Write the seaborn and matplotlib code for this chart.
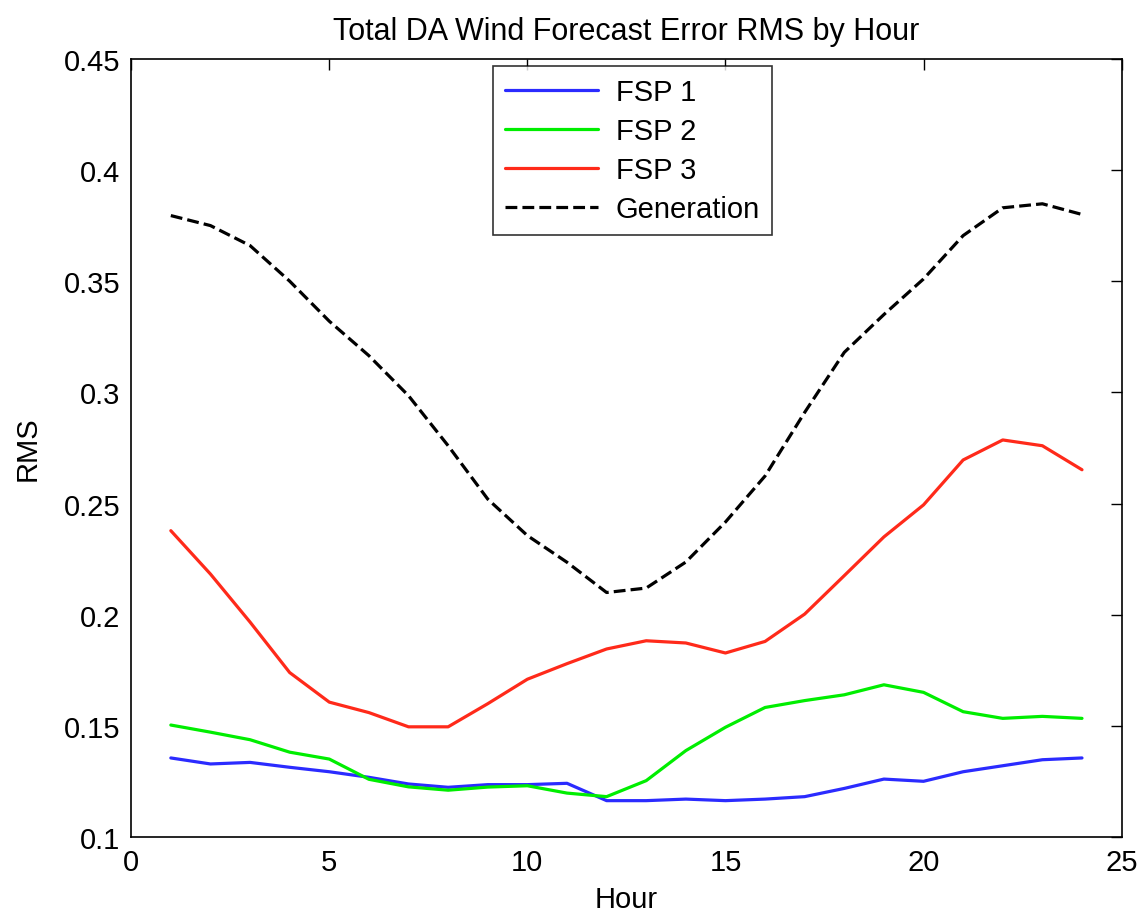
import matplotlib
matplotlib.use("Agg")
import matplotlib.pyplot as plt
import seaborn as sns
import numpy as np

# values
hours = list(range(1, 25))
fsp1 = [0.1356, 0.1329, 0.1336, 0.1314, 0.1294, 0.1269, 0.1239, 0.1224,
        0.1236, 0.1236, 0.1242, 0.1164, 0.1164, 0.1171, 0.1164, 0.1171,
        0.1182, 0.1219, 0.1261, 0.1251, 0.1294, 0.1321, 0.1348, 0.1356]
fsp2 = [0.1504, 0.1472, 0.1438, 0.1382, 0.1351, 0.1260, 0.1226, 0.1211,
        0.1225, 0.1231, 0.1198, 0.1182, 0.1254, 0.1389, 0.1494, 0.1583,
        0.1614, 0.1640, 0.1685, 0.1651, 0.1564, 0.1534, 0.1543, 0.1534]
fsp3 = [0.2378, 0.2183, 0.1967, 0.1740, 0.1607, 0.1560, 0.1496, 0.1496,
        0.1600, 0.1710, 0.1780, 0.1846, 0.1883, 0.1873, 0.1828, 0.1880,
        0.2003, 0.2176, 0.2350, 0.2494, 0.2696, 0.2786, 0.2760, 0.2652]
generation = [0.3795, 0.3750, 0.3660, 0.3500, 0.3320, 0.3165, 0.2985, 0.2760,
              0.2520, 0.2356, 0.2236, 0.2100, 0.2120, 0.2237, 0.2417, 0.2624,
              0.2910, 0.3180, 0.3350, 0.3510, 0.3705, 0.3830, 0.3848, 0.3800]
ytick_labels = ["0.1", "0.15", "0.2", "0.25", "0.3", "0.35", "0.4", "0.45"]

sns.set_style("white")
plt.rcParams["font.family"] = ["Liberation Sans", "DejaVu Sans"]
plt.rcParams["text.color"] = "black"
plt.rcParams["axes.labelcolor"] = "black"
fs = 21

fig, ax = plt.subplots(figsize=(11.41, 9.2), dpi=100)
fig.subplots_adjust(left=0.115, right=0.983, top=0.935, bottom=0.089)

lw = 2.3
sns.lineplot(x=hours, y=fsp1, ax=ax, color="#2b2bff", linewidth=lw, label="FSP 1")
sns.lineplot(x=hours, y=fsp2, ax=ax, color="#00ee00", linewidth=lw, label="FSP 2")
sns.lineplot(x=hours, y=fsp3, ax=ax, color="#ff2a1a", linewidth=lw, label="FSP 3")
sns.lineplot(x=hours, y=generation, ax=ax, color="black", linewidth=lw,
             linestyle="--", label="Generation")

ax.set_xlim(0, 25)
ax.set_ylim(0.1, 0.45)
ax.set_xticks([0, 5, 10, 15, 20, 25])
ax.set_yticks([float(t) for t in ytick_labels])
ax.set_yticklabels(ytick_labels)
ax.tick_params(direction="in", length=8, width=1, top=True, right=True,
               labelsize=fs, colors="black", pad=8)
for s in ax.spines.values():
    s.set_color("black")
    s.set_linewidth(1.2)

ax.set_title("Total DA Wind Forecast Error RMS by Hour", fontsize=fs + 1, pad=14,
             color="black")
ax.set_xlabel("Hour", fontsize=fs, labelpad=6)
ax.set_ylabel("RMS", fontsize=fs, labelpad=16)

leg = ax.legend(loc="upper center", bbox_to_anchor=(0.506, 1.0), fontsize=fs,
                frameon=True, fancybox=False, handlelength=3.2,
                labelspacing=0.38, borderpad=0.4, handletextpad=0.6,
                borderaxespad=0.25)
leg.get_frame().set_edgecolor("black")
leg.get_frame().set_linewidth(1.2)
for t in leg.get_texts():
    t.set_color("black")

fig.savefig("out.png", dpi=100)
